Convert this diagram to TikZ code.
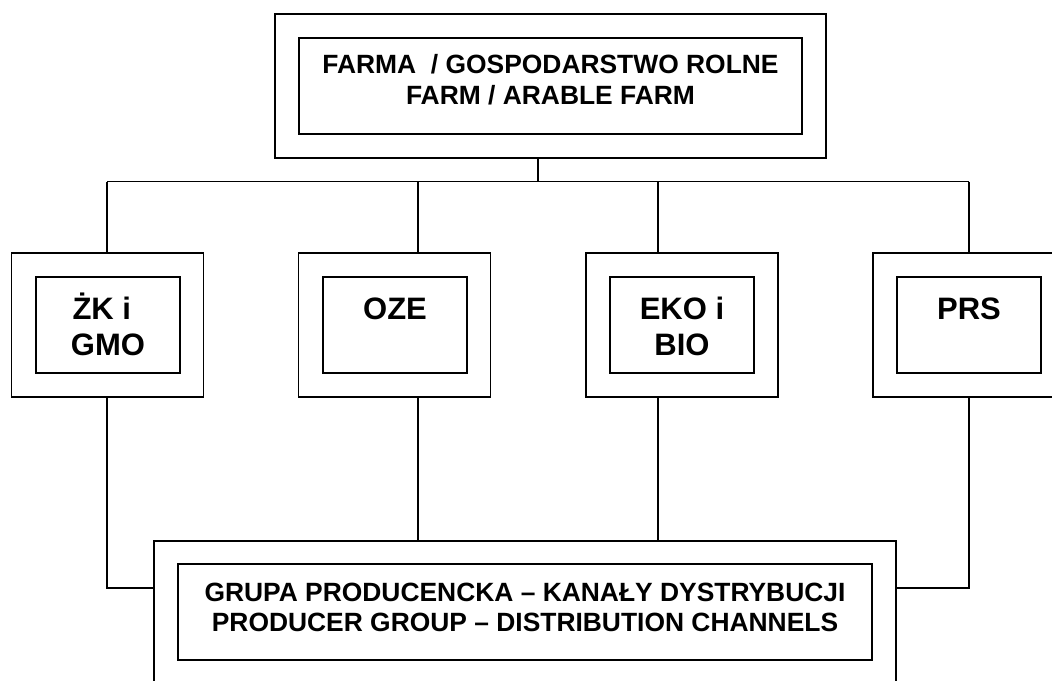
\documentclass[tikz,border=0pt]{standalone}
\usepackage{fontspec}
\setmainfont{Liberation Sans}
\begin{document}
\begin{tikzpicture}[x=1pt,y=-1pt,line width=1.8pt,
  box/.style={draw,inner sep=0pt,outer sep=0pt},
  obox/.style={box,minimum width=192pt,minimum height=144pt},
  ibox/.style={box,minimum width=144pt,minimum height=96pt},
  lbl/.style={anchor=base,inner sep=0pt,font=\bfseries\fontsize{26.4}{30.7}\selectfont},
  slbl/.style={anchor=base,inner sep=0pt,font=\bfseries\fontsize{31}{36.4}\selectfont}]
\clip (0,0) rectangle (1052,680);
\fill[white] (0,0) rectangle (1052,680);
% top
\node[box,minimum width=551pt,minimum height=144pt] (topo) at (550.5,86) {};
\node[box,minimum width=503pt,minimum height=96pt] (topi) at (550.5,86) {};
\node[lbl] (t0) at (550.5,73.3) {\begin{tabular}[t]{@{}c@{}}FARMA \ / GOSPODARSTWO ROLNE\\FARM / ARABLE FARM\end{tabular}};
% middle boxes
\node[obox] (o1) at (107.5,325) {};
\node[ibox] (i1) at (108,325) {};
\node[slbl] (t1) at (108,319) {\begin{tabular}[t]{@{}c@{}}ŻK i\kern0.4em\\GMO\end{tabular}};
\node[obox] (o2) at (394.5,325) {};
\node[ibox] (i2) at (395,325) {};
\node[slbl] (t2) at (395,319) {OZE};
\node[obox] (o3) at (682,325) {};
\node[ibox] (i3) at (682,325) {};
\node[slbl] (t3) at (682,319) {\begin{tabular}[t]{@{}c@{}}EKO i\\BIO\end{tabular}};
\node[obox] (o4) at (969,325) {};
\node[ibox] (i4) at (969,325) {};
\node[slbl] (t4) at (969,319) {PRS};
% bottom
\node[box,minimum width=742pt,minimum height=143pt] (ob) at (525,612.5) {};
\node[box,minimum width=694pt,minimum height=96pt] (ib) at (525,612) {};
\node[lbl] (tb) at (525,601) {\begin{tabular}[t]{@{}c@{}}GRUPA PRODUCENCKA -- KANAŁY DYSTRYBUCJI\\PRODUCER GROUP -- DISTRIBUTION CHANNELS\end{tabular}};
% connectors
\coordinate (busL) at (107,181.5);
\coordinate (busR) at (969,181.5);
\coordinate (stem) at (538,181.5);
\coordinate (v2) at (418,181.5);
\coordinate (v3) at (658,181.5);
\coordinate (jL) at (107,588);
\draw (busL) -- (busR);
\draw (stem) -- (stem |- topo.south);
\draw (busL) -- (busL |- o1.north);
\draw (v2) -- (v2 |- o2.north);
\draw (v3) -- (v3 |- o3.north);
\draw (busR) -- (busR |- o4.north);
\draw (busL |- o1.south) |- (ob.west |- jL);
\draw (v2 |- o2.south) -- (v2 |- ob.north);
\draw (v3 |- o3.south) -- (v3 |- ob.north);
\draw (busR |- o4.south) |- (ob.east |- jL);
\end{tikzpicture}
\end{document}
